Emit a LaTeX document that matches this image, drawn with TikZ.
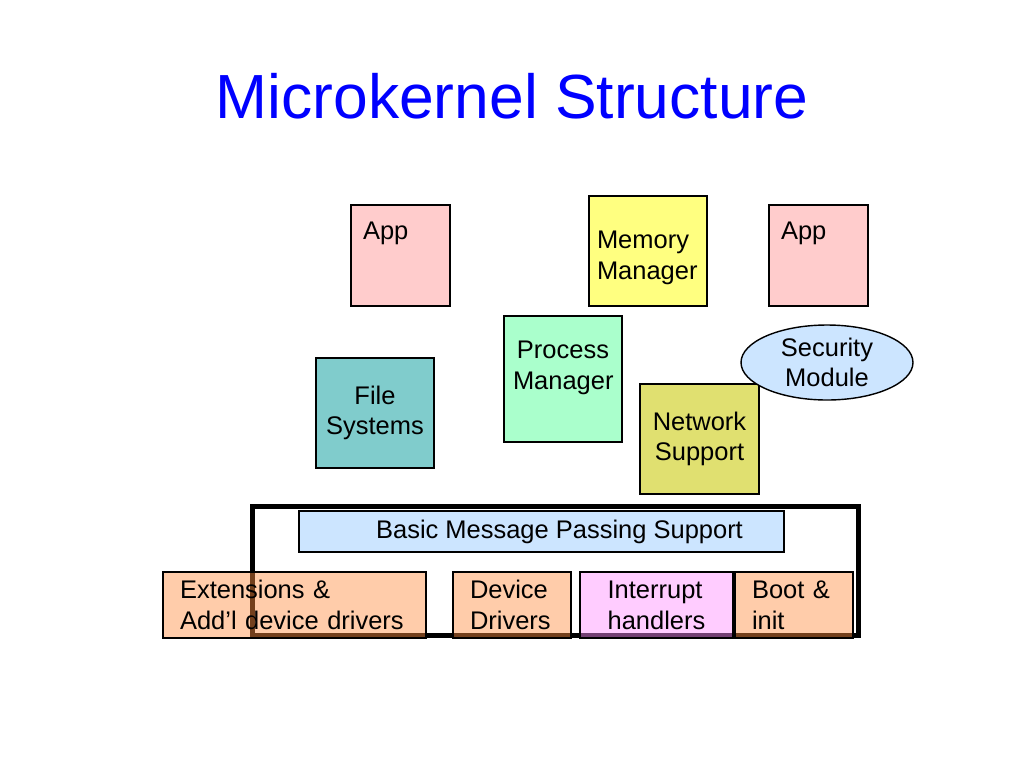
\documentclass[tikz,border=0pt]{standalone}
\usepackage{fontspec}
\setmainfont{Liberation Sans}
\usetikzlibrary{shapes}

\definecolor{titleblue}{RGB}{0,0,255}
\definecolor{appfill}{RGB}{255,204,204}
\definecolor{memfill}{RGB}{255,255,128}
\definecolor{procfill}{RGB}{170,255,204}
\definecolor{fsfill}{RGB}{128,204,204}
\definecolor{netfill}{RGB}{224,224,112}
\definecolor{secfill}{RGB}{204,229,255}
\definecolor{drvfill}{RGB}{255,142,66}
\definecolor{irqfill}{RGB}{255,142,255}

\begin{document}
\begin{tikzpicture}[x=0.02cm, y=-0.02cm,
    box/.style={draw, rectangle, line width=0.8pt, font=\fontsize{14.5}{17.5}\selectfont, inner sep=2pt},
    appbox/.style={box, fill=appfill, text width=1.5cm, inner xsep=0.24cm, inner ysep=0pt, text height=0.68cm, text depth=1.34cm},
    midbox/.style={box, minimum width=2.36cm, minimum height=2.2cm, align=center},
    lowbox/.style={box, fill=drvfill, fill opacity=0.45, text opacity=1, minimum height=1.32cm, inner xsep=0.34cm, align=left}]
        \useasboundingbox (0,0) rectangle (1024,768);

        % Draw the title
        \node (title) at (512,96) [text=titleblue, font=\fontsize{35.5}{40}\selectfont] {Microkernel Structure};

        % Draw the servers
        \node (app1) at (400.5,255.5) [appbox] {App};
        \node (mem)  at (648,251)     [midbox, fill=memfill, align=left, text width=2.04cm, inner xsep=0.16cm, text height=17.4pt, text depth=20.5pt] {Memory\\Manager};
        \node (app2) at (818.5,255.5) [appbox] {App};
        \node (proc) at (563,379)     [midbox, fill=procfill, minimum height=2.52cm, text width=2.0cm, text height=10.6pt, text depth=34pt] {Process\\Manager};
        \node (fs)   at (375,413)     [midbox, fill=fsfill] {File\\Systems};
        \node (net)  at (699.5,439)   [midbox, fill=netfill, minimum width=2.38cm] {Network\\Support};
        \node (sec)  at (827,362.5)   [draw, ellipse, line width=0.8pt, fill=secfill, minimum width=3.44cm, minimum height=1.5cm, inner sep=0pt, align=center, font=\fontsize{14.5}{17.5}\selectfont] {Security\\Module};

        % Draw the kernel
        \node (kernel) at (555.5,571) [draw, rectangle, line width=2.8pt, minimum width=12.12cm, minimum height=2.58cm, inner sep=0pt] {};
        \node (msg)  at (541.5,531.5) [box, fill=secfill, minimum width=9.7cm, minimum height=0.82cm] {\hspace*{0.72cm}Basic Message Passing Support};

        % Draw the lower blocks
        \node (ext)  at (294.5,605)   [lowbox, text width=4.58cm] {Extensions \&\\Add’l device drivers};
        \node (dev)  at (512,605)     [lowbox, text width=1.68cm] {Device\\Drivers};
        \node (irq)  at (656.5,605)   [lowbox, fill=irqfill, minimum width=3.06cm, inner xsep=2pt] {Interrupt\\handlers};
        \node (boot) at (794,605)     [lowbox, text width=1.68cm] {Boot \&\\init};
    \end{tikzpicture}
\end{document}
